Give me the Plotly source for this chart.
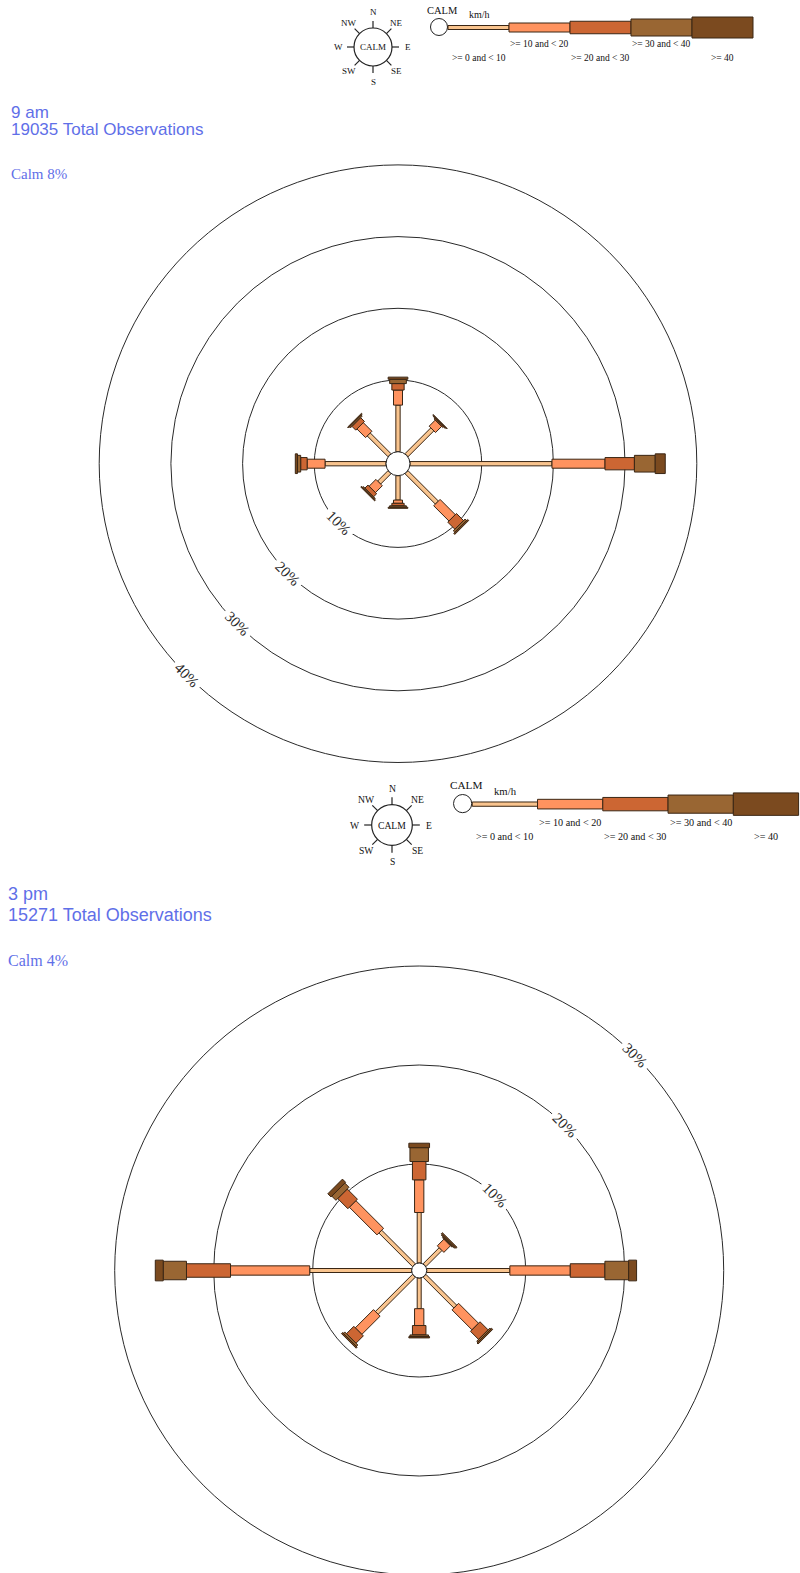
import numpy as np
import plotly.graph_objects as go

W, H = 800, 1573

# ---------------------------------------------------------------- data
directions = ["N", "NE", "E", "SE", "S", "SW", "W", "NW"]
bearings = [0, 45, 90, 135, 180, 225, 270, 315]
speed_bins = [">= 0 and < 10", ">= 10 and < 20", ">= 20 and < 30",
              ">= 30 and < 40", ">= 40"]
bin_colors = ["#F9C48E", "#FF935F", "#CC6633", "#996633", "#7B4A1F"]
outline = "#3A2614"

# 9 am: percentage of observations by direction for each speed band (km/h)
am9_lt10 = [6.5, 5.1, 19.8, 6.0, 3.4, 2.05, 8.5, 4.1]
am9_10_20 = [2.1, 1.2, 7.4, 3.0, 0.45, 1.35, 2.5, 1.7]
am9_20_30 = [0.9, 0.15, 4.1, 1.4, 0.35, 0.6, 0.9, 0.75]
am9_30_40 = [0.6, 0.1, 2.9, 0.3, 0.2, 0.15, 0.45, 0.2]
am9_ge40 = [0.3, 0.1, 1.4, 0.2, 0.15, 0.15, 0.3, 0.15]
am9_calm = 8
am9_total = 19035
am9_rings = [10, 20, 30, 40]

# 3 pm
pm3_lt10 = [5.1, 2.3, 8.4, 4.4, 3.1, 5.3, 10.3, 4.8]
pm3_10_20 = [3.3, 0.95, 6.1, 2.85, 1.7, 2.6, 8.0, 3.95]
pm3_20_30 = [1.85, 0.1, 3.5, 1.15, 0.95, 1.05, 4.45, 1.45]
pm3_30_40 = [1.4, 0.1, 2.4, 0.15, 0.17, 0.2, 2.35, 0.6]
pm3_ge40 = [0.45, 0.15, 0.8, 0.15, 0.13, 0.15, 0.8, 0.45]
pm3_calm = 4
pm3_total = 15271
pm3_rings = [10, 20, 30]

# ---------------------------------------------------------------- layout settings
title_color = "#5F6FE8"
serif = "Liberation Serif"
sans = "Liberation Sans"

panels = [
    dict(name="9 am", total=am9_total, calm=am9_calm, rings=am9_rings,
         bins=[am9_lt10, am9_10_20, am9_20_30, am9_30_40, am9_ge40],
         cx=398, cy=463.7, scale=7.17, calm_px=12, top=140, bottom=800,
         widths_px=[4.3, 9, 12.3, 16.7, 19.7], label_bearing=225,
         xa="x", ya="y", head_x=9, head_y=[112.5, 129.2], calm_y=174,
         head_size=17, calm_size=15,
         legend=(373, 47, 1.0)),
    dict(name="3 pm", total=pm3_total, calm=pm3_calm, rings=pm3_rings,
         bins=[pm3_lt10, pm3_10_20, pm3_20_30, pm3_30_40, pm3_ge40],
         cx=419.2, cy=1270.5, scale=9.9, calm_px=7.5, top=955, bottom=1573,
         widths_px=[4, 9.3, 13.5, 18.5, 20.7], label_bearing=45,
         xa="x2", ya="y2", head_x=6, head_y=[894, 914.7], calm_y=960.5,
         head_size=18, calm_size=16,
         legend=(392, 825, 1.07)),
]

fig = go.Figure()
shapes = []
annotations = []


def px_to_paper(x, y):
    return x / W, 1 - y / H


def paper_text(x, y, text, size, color="#111", family=serif, xanchor="center"):
    px, py = px_to_paper(x, y)
    annotations.append(dict(xref="paper", yref="paper", x=px, y=py, text=text,
                            showarrow=False, xanchor=xanchor, yanchor="middle",
                            font=dict(family=family, size=size, color=color)))


def draw_legend(cx, cy, k):
    # compass key
    r = 19 * k
    x0, y0 = px_to_paper(cx - r, cy - r)
    x1, y1 = px_to_paper(cx + r, cy + r)
    shapes.append(dict(type="circle", xref="paper", yref="paper",
                       x0=x0, x1=x1, y0=y1, y1=y0,
                       line=dict(color="#222", width=1.2), fillcolor="white"))
    for d, b in zip(directions, bearings):
        t = np.radians(b)
        ax, ay = px_to_paper(cx + r * np.sin(t), cy - r * np.cos(t))
        bx, by = px_to_paper(cx + 26 * k * np.sin(t), cy - 26 * k * np.cos(t))
        shapes.append(dict(type="line", xref="paper", yref="paper",
                           x0=ax, y0=ay, x1=bx, y1=by,
                           line=dict(color="#222", width=1.2)))
        rl = (34.5 if b % 90 == 0 else 33.5) * k
        paper_text(cx + rl * np.sin(t), cy - rl * np.cos(t), d, 9 * k)
    paper_text(cx, cy, "CALM", 9 * k)

    # calm marker and speed bands
    ccx, ccy, cr = cx + 66 * k, cy - 20 * k, 8.5 * k
    x0, y0 = px_to_paper(ccx - cr, ccy - cr)
    x1, y1 = px_to_paper(ccx + cr, ccy + cr)
    shapes.append(dict(type="circle", xref="paper", yref="paper",
                       x0=x0, x1=x1, y0=y1, y1=y0,
                       line=dict(color="#222", width=1), fillcolor="white"))
    paper_text(cx + 69 * k, cy - 37 * k, "CALM", 10.5 * k)
    paper_text(cx + 106 * k, cy - 32 * k, "km/h", 10 * k)

    heights = [4, 9, 12.5, 17, 21]
    seg = 61 * k
    start = cx + 75 * k
    bar_y = cy - 19.5 * k
    for i, (lab, col) in enumerate(zip(speed_bins, bin_colors)):
        h = heights[i] * k
        x0, y0 = px_to_paper(start + i * seg, bar_y - h / 2)
        x1, y1 = px_to_paper(start + (i + 1) * seg, bar_y + h / 2)
        shapes.append(dict(type="rect", xref="paper", yref="paper",
                           x0=x0, x1=x1, y0=y1, y1=y0, fillcolor=col,
                           line=dict(color=outline, width=1)))
        ly = cy + (10.5 if i % 2 == 0 else -2.5) * k
        paper_text(start + (i + 0.5) * seg, ly, lab, 9.5 * k)


axis_layout = {}
for idx, p in enumerate(panels):
    s = p["scale"]
    calm_u = p["calm_px"] / s
    xa, ya = p["xa"], p["ya"]

    # axes: one unit = one percent of observations
    xkey = "xaxis" if xa == "x" else "xaxis" + xa[1:]
    ykey = "yaxis" if ya == "y" else "yaxis" + ya[1:]
    axis_layout[xkey] = dict(domain=[0, 1], range=[-p["cx"] / s, (W - p["cx"]) / s],
                             visible=False, anchor=ya, fixedrange=True)
    axis_layout[ykey] = dict(domain=[1 - p["bottom"] / H, 1 - p["top"] / H],
                             range=[(p["cy"] - p["bottom"]) / s, (p["cy"] - p["top"]) / s],
                             visible=False, anchor=xa, fixedrange=True)

    # percentage rings
    for ring in p["rings"]:
        rr = calm_u + ring
        shapes.append(dict(type="circle", xref=xa, yref=ya, x0=-rr, x1=rr,
                           y0=-rr, y1=rr, layer="below",
                           line=dict(color="#2a2a2a", width=1)))
        t = np.radians(p["label_bearing"])
        annotations.append(dict(xref=xa, yref=ya, x=rr * np.sin(t), y=rr * np.cos(t),
                                text=f"{ring}%", showarrow=False, textangle=45,
                                bgcolor="white", borderpad=3,
                                font=dict(family=serif, size=15, color="#2a2a2a")))

    # stacked speed-band segments along each direction arm
    cum = np.zeros(len(directions))
    for bi, vals in enumerate(p["bins"]):
        hw = p["widths_px"][bi] / s / 2
        xs, ys = [], []
        for di, b in enumerate(bearings):
            t = np.radians(b)
            ux, uy = np.sin(t), np.cos(t)
            vx, vy = np.cos(t), -np.sin(t)
            r0 = calm_u + cum[di]
            r1 = r0 + vals[di]
            pts = [(r0 * ux + hw * vx, r0 * uy + hw * vy),
                   (r1 * ux + hw * vx, r1 * uy + hw * vy),
                   (r1 * ux - hw * vx, r1 * uy - hw * vy),
                   (r0 * ux - hw * vx, r0 * uy - hw * vy)]
            for q in pts + [pts[0]]:
                xs.append(q[0])
                ys.append(q[1])
            xs.append(None)
            ys.append(None)
        cum += np.array(vals)
        fig.add_trace(go.Scatter(x=xs, y=ys, xaxis=xa, yaxis=ya, mode="lines",
                                 fill="toself", fillcolor=bin_colors[bi],
                                 line=dict(color=outline, width=1),
                                 name=speed_bins[bi], showlegend=False,
                                 hoverinfo="skip"))

    # calm circle in the middle
    shapes.append(dict(type="circle", xref=xa, yref=ya, x0=-calm_u, x1=calm_u,
                       y0=-calm_u, y1=calm_u, layer="above", fillcolor="white",
                       line=dict(color="#222", width=1)))

    # headings
    paper_text(p["head_x"], p["head_y"][0], p["name"], p["head_size"],
               color=title_color, family=sans, xanchor="left")
    paper_text(p["head_x"], p["head_y"][1], f"{p['total']} Total Observations",
               p["head_size"], color=title_color, family=sans, xanchor="left")
    paper_text(p["head_x"], p["calm_y"], f"Calm {p['calm']}%", p["calm_size"],
               color=title_color, family=serif, xanchor="left")

    draw_legend(*p["legend"])

fig.update_layout(width=W, height=H, margin=dict(l=0, r=0, t=0, b=0),
                  paper_bgcolor="white", plot_bgcolor="white",
                  showlegend=False, shapes=shapes, annotations=annotations,
                  **axis_layout)

fig.write_html("out.html")
